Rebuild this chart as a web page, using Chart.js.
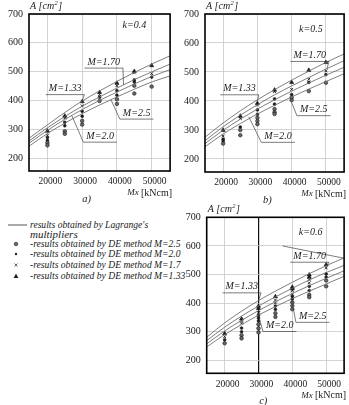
<!DOCTYPE html>
<html lang="en">
<head>
<meta charset="UTF-8">
<title>Lagrange multipliers vs DE method</title>
<script src="https://cdn.jsdelivr.net/npm/chart.js"></script>
<style>
  body {
    margin: 0;
    width: 349px;
    height: 405px;
    position: relative;
    overflow: hidden;
    background: #fff;
    font-family: "Liberation Serif", serif;
    color: #1a1a1a;
  }
  canvas { position: absolute; }
  #chartA { left: 0; top: 0; }
  #chartB { left: 175px; top: 0; }
  #chartC { left: 175px; top: 200px; }
  .lg { position: absolute; white-space: nowrap; font-style: italic; font-size: 9.6px; line-height: 10px; }
  .mk { position: absolute; left: 12px; }
</style>
</head>
<body>
  <canvas id="chartA" width="175" height="205"></canvas>
  <canvas id="chartB" width="174" height="205"></canvas>

  <!-- legend -->
  <svg class="mk" style="left:8px;top:224px" width="20" height="2"><line x1="0" y1="1" x2="19" y2="1" stroke="#555" stroke-width="1"/></svg>
  <div class="lg" style="left:30px;top:220px">results obtained by Lagrange's</div>
  <div class="lg" style="left:30px;top:229px;font-size:11px">multipliers</div>
  <svg class="mk" style="top:240px" width="8" height="8"><circle cx="4" cy="4" r="1.8" fill="#666" stroke="#222" stroke-width="0.6"/></svg>
  <div class="lg" style="left:30px;top:239px">-results obtained by DE method M=2.5</div>
  <svg class="mk" style="top:250px" width="8" height="8"><circle cx="4" cy="4" r="1.2" fill="#222"/></svg>
  <div class="lg" style="left:30px;top:249px">-results obtained by DE method M=2.0</div>
  <svg class="mk" style="top:261px" width="8" height="8"><path d="M2.5 2.5 L5.5 5.5 M5.5 2.5 L2.5 5.5" stroke="#444" stroke-width="0.8"/></svg>
  <div class="lg" style="left:30px;top:260px">-results obtained by DE method M=1.7</div>
  <svg class="mk" style="top:272px" width="8" height="8"><path d="M4 1.6 L6.4 6 L1.6 6 Z" fill="#222"/></svg>
  <div class="lg" style="left:30px;top:271px">-results obtained by DE method M=1.33</div>

  <canvas id="chartC" width="174" height="205"></canvas>

<script>
  // shared axes
  const xTicks = [20000, 30000, 40000, 50000];
  const yTicks = [200, 300, 400, 500, 600, 700];
  const curveX = [14700, 20000, 25000, 30000, 35000, 40000, 45000, 50000, 55300];

  // k=0.4 : Lagrange curves
  const a_L133 = [269, 315, 358, 398, 433, 466, 497, 526, 555];
  const a_L170 = [259, 305, 344, 380, 412, 443, 472, 499, 526];
  const a_L200 = [251, 296, 334, 368, 400, 429, 457, 483, 507];
  const a_L250 = [241, 285, 321, 354, 384, 412, 439, 464, 485];
  // k=0.4 : DE results [Mx, A]
  const a_DE133 = [[20000,294],[25000,346],[30000,396],[35000,428],[40000,460],[45000,501],[50000,521]];
  const a_DE170 = [[20000,279],[25000,339],[30000,381],[35000,420],[40000,451],[45000,496],[50000,493]];
  const a_DE200 = [[20000,271],[20000,261],[25000,324],[25000,312],[30000,362],[30000,345],[35000,411],
                   [40000,434],[40000,418],[45000,471],[45000,464],[50000,481]];
  const a_DE250 = [[20000,253],[20000,244],[25000,293],[25000,284],[30000,329],[30000,316],[35000,398],
                   [40000,404],[40000,388],[45000,451],[45000,424],[50000,448]];

  // k=0.5
  const b_L133 = [275, 324, 366, 404, 439, 472, 503, 533, 562];
  const b_L170 = [263, 311, 351, 387, 421, 452, 481, 510, 539];
  const b_L200 = [253, 299, 337, 372, 404, 434, 462, 489, 516];
  const b_L250 = [242, 286, 322, 355, 385, 414, 441, 467, 494];
  const b_DE133 = [[20000,299],[25000,348],[30000,392],[35000,438],[40000,464],[45000,506],[50000,533]];
  const b_DE170 = [[20000,279],[25000,340],[30000,386],[35000,432],[40000,440],[45000,475],[50000,504]];
  const b_DE200 = [[20000,268],[20000,262],[25000,310],[30000,369],[30000,354],[35000,407],[35000,389],
                   [40000,422],[45000,464],[50000,491]];
  const b_DE250 = [[20000,253],[25000,300],[25000,282],[30000,342],[30000,331],[30000,320],[35000,372],
                   [35000,361],[35000,355],[40000,412],[40000,403],[45000,434],[50000,463]];

  // k=0.6
  const c_L133 = [281, 331, 372, 409, 442, 473, 503, 531, 558];
  const c_L170 = [269, 316, 355, 390, 422, 452, 481, 507, 532];
  const c_L200 = [258, 303, 340, 374, 405, 434, 461, 487, 513];
  const c_L250 = [247, 290, 325, 358, 388, 416, 442, 467, 494];
  const c_DE133 = [[20000,294],[25000,345],[30000,390],[30000,382],[35000,423],[40000,456],[40000,450],
                   [45000,499],[45000,491],[50000,534]];
  const c_DE170 = [[20000,283],[25000,338],[25000,330],[30000,374],[30000,366],[35000,411],[35000,401],
                   [40000,444],[40000,432],[45000,482],[45000,471],[50000,523]];
  const c_DE200 = [[20000,272],[25000,313],[25000,300],[30000,357],[30000,348],[30000,338],[35000,390],
                   [35000,378],[40000,424],[40000,415],[45000,459],[45000,444],[50000,502],[50000,491]];
  const c_DE250 = [[20000,260],[25000,288],[25000,277],[30000,326],[30000,312],[30000,298],[35000,365],
                   [35000,352],[40000,403],[40000,391],[40000,379],[45000,429],[45000,421],[50000,479],[50000,459]];

  const SERIF = '"Liberation Serif", "Times New Roman", serif';

  // frame, titles and the M= labels with their leader lines
  const notesPlugin = {
    id: 'notes',
    afterDraw(chart, args, o) {
      const { ctx, chartArea: a, scales: { x, y } } = chart;
      ctx.save();
      ctx.strokeStyle = '#000';
      ctx.lineWidth = 1.6;
      ctx.strokeRect(a.left, a.top, a.right - a.left, a.bottom - a.top);

      ctx.fillStyle = '#1a1a1a';
      ctx.textBaseline = 'middle';
      ctx.textAlign = 'left';
      // A [cm2]
      let tx = a.left + 1, ty = a.top - 8;
      ctx.font = 'italic 10px ' + SERIF;
      ctx.fillText('A [cm', tx, ty);
      tx += ctx.measureText('A [cm').width;
      ctx.font = 'italic 6.5px ' + SERIF;
      ctx.fillText('2', tx + 0.3, ty - 3);
      tx += ctx.measureText('2').width + 0.8;
      ctx.font = 'italic 10px ' + SERIF;
      ctx.fillText(']', tx, ty);

      // Mx [kNcm]
      ctx.textAlign = 'right';
      ctx.font = '10px ' + SERIF;
      const mxY = a.bottom + 22;
      ctx.fillText('[kNcm]', a.right + 2, mxY);
      const w1 = ctx.measureText('[kNcm]').width;
      ctx.font = 'italic 9px ' + SERIF;
      ctx.fillText('Mx ', a.right + 2 - w1, mxY);

      // panel letter
      ctx.textAlign = 'center';
      ctx.font = 'italic 10.5px ' + SERIF;
      ctx.fillText(o.panel, x.getPixelForValue(o.panelX), a.bottom + 28);

      // k value
      ctx.font = 'italic 10px ' + SERIF;
      ctx.fillText(o.k.text, x.getPixelForValue(o.k.x), y.getPixelForValue(o.k.y));

      // M labels
      ctx.textAlign = 'left';
      ctx.strokeStyle = '#444';
      ctx.lineWidth = 0.7;
      o.labels.forEach(l => {
        const px = x.getPixelForValue(l.x), py = y.getPixelForValue(l.y);
        ctx.fillText(l.text, px, py);
        const w = ctx.measureText(l.text).width;
        const uy = py + 6;
        ctx.beginPath();
        ctx.moveTo(px - 3, uy);
        ctx.lineTo(px + w + 3, uy);
        const sx = l.side === 'right' ? px + w + 3 : px - 3;
        ctx.moveTo(sx, uy);
        ctx.lineTo(x.getPixelForValue(l.to[0]), y.getPixelForValue(l.to[1]));
        ctx.stroke();
      });
      (o.lines || []).forEach(s => {
        ctx.beginPath();
        ctx.moveTo(x.getPixelForValue(s[0]), y.getPixelForValue(s[1]));
        ctx.lineTo(x.getPixelForValue(s[2]), y.getPixelForValue(s[3]));
        ctx.stroke();
      });
      ctx.restore();
    }
  };

  function curve(vals) {
    return {
      type: 'scatter',
      data: curveX.map((v, i) => ({ x: v, y: vals[i] })),
      showLine: true,
      borderColor: '#707070',
      borderWidth: 0.9,
      pointRadius: 0,
      cubicInterpolationMode: 'monotone'
    };
  }

  function points(list, style, r, fill) {
    return {
      type: 'scatter',
      data: list.map(p => ({ x: p[0], y: p[1] })),
      pointStyle: style,
      pointRadius: r,
      backgroundColor: fill,
      borderColor: '#1a1a1a',
      borderWidth: style === 'crossRot' ? 0.9 : 0.6
    };
  }

  function makeChart(id, cfg) {
    return new Chart(document.getElementById(id), {
      type: 'scatter',
      data: {
        datasets: [
          curve(cfg.L[0]), curve(cfg.L[1]), curve(cfg.L[2]), curve(cfg.L[3]),
          points(cfg.DE[3], 'circle', 1.8, '#666'),
          points(cfg.DE[2], 'circle', 1.4, '#1a1a1a'),
          points(cfg.DE[1], 'crossRot', 2, '#1a1a1a'),
          points(cfg.DE[0], 'triangle', 2.4, '#1a1a1a')
        ]
      },
      options: {
        responsive: false,
        animation: false,
        layout: { padding: { left: 0, right: cfg.padRight, top: cfg.padTop, bottom: 0 } },
        plugins: {
          legend: { display: false },
          tooltip: { enabled: false },
          notes: cfg.notes
        },
        scales: {
          x: {
            type: 'linear',
            min: 14700,
            max: 55300,
            afterBuildTicks: s => { s.ticks = xTicks.map(v => ({ value: v })); },
            afterFit: s => { s.height = cfg.xHeight; },
            border: { display: false },
            grid: {
              drawTicks: false,
              color: c => (cfg.darkX === c.tick.value ? '#111' : '#c8c8c8'),
              lineWidth: c => (cfg.darkX === c.tick.value ? 1.2 : 0.8)
            },
            ticks: {
              padding: 5,
              labelOffset: 3,
              color: '#1a1a1a',
              font: { family: SERIF, size: 9.5 },
              callback: v => String(v)
            }
          },
          y: {
            min: 155,
            max: 700,
            afterBuildTicks: s => { s.ticks = yTicks.map(v => ({ value: v })); },
            afterFit: s => { s.width = cfg.yWidth; },
            border: { display: false },
            grid: { drawTicks: false, color: '#c8c8c8', lineWidth: 0.8 },
            ticks: {
              padding: 6,
              color: '#1a1a1a',
              font: { family: SERIF, size: 10 },
              callback: v => String(v)
            }
          }
        }
      },
      plugins: [notesPlugin]
    });
  }

  makeChart('chartA', {
    L: [a_L133, a_L170, a_L200, a_L250],
    DE: [a_DE133, a_DE170, a_DE200, a_DE250],
    yWidth: 29, xHeight: 34, padRight: 4, padTop: 14,
    notes: {
      panel: 'a)', panelX: 31300,
      k: { text: 'k=0.4', x: 45000, y: 662 },
      labels: [
        { text: 'M=1.70', x: 31500, y: 533, side: 'right', to: [41900, 454] },
        { text: 'M=1.33', x: 20400, y: 441, side: 'right', to: [30000, 398] },
        { text: 'M=2.5',  x: 41700, y: 356, side: 'left',  to: [38300, 402] },
        { text: 'M=2.0',  x: 31200, y: 276, side: 'left',  to: [27000, 348] }
      ]
    }
  });

  makeChart('chartB', {
    L: [b_L133, b_L170, b_L200, b_L250],
    DE: [b_DE133, b_DE170, b_DE200, b_DE250],
    yWidth: 30, xHeight: 33, padRight: 3.3, padTop: 14,
    notes: {
      panel: 'b)', panelX: 32900,
      k: { text: 'k=0.5', x: 45600, y: 648 },
      labels: [
        { text: 'M=1.70', x: 40500, y: 557, side: 'right', to: [50300, 511] },
        { text: 'M=1.33', x: 20000, y: 442, side: 'right', to: [30000, 400] },
        { text: 'M=2.5',  x: 42400, y: 370, side: 'left',  to: [39500, 409] },
        { text: 'M=2.0',  x: 32000, y: 278, side: 'left',  to: [27500, 345] }
      ]
    }
  });

  makeChart('chartC', {
    L: [c_L133, c_L170, c_L200, c_L250],
    DE: [c_DE133, c_DE170, c_DE200, c_DE250],
    yWidth: 31.7, xHeight: 31.7, padRight: 3.3, padTop: 17.3, darkX: 30000,
    notes: {
      panel: 'c)', panelX: 31400,
      k: { text: 'k=0.6', x: 45400, y: 649 },
      labels: [
        { text: 'M=1.70', x: 40300, y: 564, side: 'right', to: [50000, 528] },
        { text: 'M=1.33', x: 20250, y: 457, side: 'right', to: [30000, 409] },
        { text: 'M=2.0',  x: 32200, y: 322, side: 'left',  to: [30300, 345] },
        { text: 'M=2.5',  x: 41950, y: 354, side: 'left',  to: [39700, 418] }
      ],
      lines: [[37100, 600, 55300, 557]]
    }
  });
</script>
</body>
</html>
